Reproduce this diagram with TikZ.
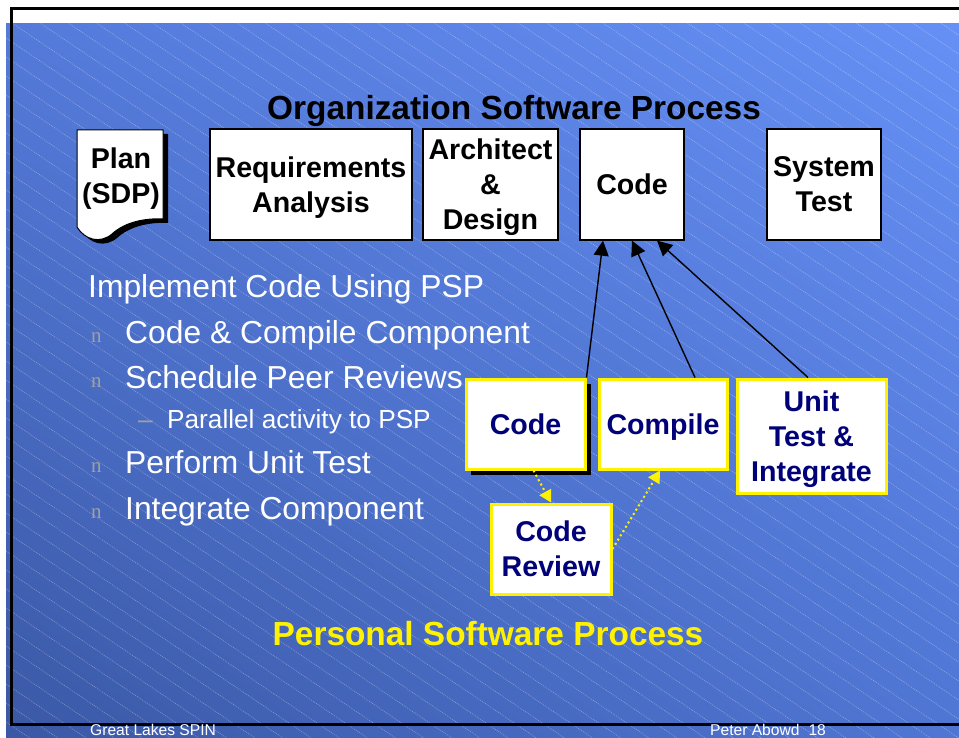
\documentclass[tikz,border=0pt]{standalone}
\usepackage{fontspec}
\setmainfont{Liberation Sans}
\newfontfamily\bulletfont{Liberation Serif}
\usepackage{tikz}
\usetikzlibrary{arrows,arrows.meta,shapes,shadings,positioning}

\definecolor{slideul}{RGB}{84,122,218}
\definecolor{slideur}{RGB}{102,144,245}
\definecolor{slidell}{RGB}{58,88,165}
\definecolor{slidelr}{RGB}{80,118,212}
\definecolor{navytext}{RGB}{0,0,120}
\definecolor{bulletgray}{RGB}{160,160,160}

\newcommand{\titlefont}{\fontsize{33.4}{40}\selectfont\bfseries}
\newcommand{\orgfont}{\fontsize{28.6}{35}\selectfont\bfseries}
\newcommand{\listfont}{\fontsize{31.8}{37}\selectfont}
\newcommand{\subfont}{\fontsize{26.2}{30}\selectfont}
\newcommand{\footfont}{\fontsize{15.6}{18}\selectfont}
\newcommand{\planpath}{(77,130) -- (163,130) -- (163,219)
  .. controls (145,218) and (125,222) .. (112,234)
  .. controls (100,244) and (85,240) .. (77,227) -- cycle}

\begin{document}
\begin{tikzpicture}[x=1pt, y=-1pt,
    orgbox/.style={draw=black, line width=1.3pt, fill=white, font=\orgfont,
      align=center, inner sep=0pt, text depth=0pt, minimum height=111pt},
    pspbox/.style={draw=yellow, line width=3pt, fill=white, text=navytext,
      font=\orgfont, align=center, inner sep=0pt, text depth=0pt, minimum height=90pt},
    listitem/.style={anchor=base west, text=white, font=\listfont, inner sep=0pt},
    bulletmark/.style={anchor=base west, text=bulletgray, inner sep=0pt,
      font=\bulletfont\fontsize{21}{24}\selectfont},
    hatch/.style={white, opacity=0.35, line width=0.6pt, dash pattern=on 1pt off 1pt},
    uparrow/.style={black, line width=1.4pt, -{Triangle[length=15pt, width=15pt]}},
    reviewarrow/.style={yellow, line width=2pt, dash pattern=on 2pt off 3pt,
      -{Triangle[length=12pt, width=13pt]}}]
    \useasboundingbox (0,0) rectangle (959,738);

    % slide background
    \shade[upper left=slideul, upper right=slideur, lower left=slidell, lower right=slidelr]
      (6,24) rectangle (959,738);
    \begin{scope}
      \clip (6,24) rectangle (959,738);
      \foreach \k in {-34,...,39}
        \draw[hatch] (6,\k*19) -- ++(960,648);
    \end{scope}
    \draw[black, line width=3pt] (959,9) -- (11.5,9) -- (11.5,724.5) -- (959,724.5);

    % organization process
    \node[font=\titlefont, text depth=0pt] (title) at (514,107) {Organization Software Process};

    \fill[black, shift={(5,4)}] \planpath;
    \draw[black, line width=1pt, fill=white] \planpath;
    \node[font=\orgfont, align=center, text depth=0pt] (plan) at (121,176) {Plan\\(SDP)};

    \node[orgbox, minimum width=202pt] (req) at (311,184.5) {Requirements\\Analysis};
    \node[orgbox, minimum width=135pt] (arch) at (490.5,184.5) {Architect\\\&\\Design};
    \node[orgbox, minimum width=104pt] (code) at (632,184.5) {Code};
    \node[orgbox, minimum width=114pt] (sys) at (824,184.5) {System\\Test};

    % bullet list
    \node[listitem] (impl) at (88,298) {Implement Code Using PSP};
    \node[bulletmark] (b1) at (91,342) {n};
    \node[listitem] (item1) at (125,343) {Code \& Compile Component};
    \node[bulletmark] (b2) at (91,387) {n};
    \node[listitem] (item2) at (125,388) {Schedule Peer Reviews};
    \node[bulletmark, font=\subfont] (dash) at (138,428) {--};
    \node[listitem, font=\subfont] (sub1) at (167,428) {Parallel activity to PSP};
    \node[bulletmark] (b3) at (91,472) {n};
    \node[listitem] (item3) at (125,473) {Perform Unit Test};
    \node[bulletmark] (b4) at (91,518) {n};
    \node[listitem] (item4) at (125,519) {Integrate Component};

    % personal process
    \fill[black] (471,384) rectangle (591,475);
    \node[pspbox, minimum width=119pt] (pcode) at (525.5,424) {Code};
    \node[pspbox, minimum width=128pt] (pcomp) at (663,424) {Compile};
    \node[pspbox, minimum width=149pt, minimum height=114pt] (punit) at (811.5,436) {Unit\\Test \&\\Integrate};
    \node[pspbox, minimum width=120pt] (prev) at (551,549) {Code\\Review};

    \draw[uparrow] (pcode.north east) -- ([xshift=-29pt]code.south);
    \draw[uparrow] ([xshift=32pt]pcomp.north) -- (code.south);
    \draw[uparrow] ([xshift=-3.5pt]punit.north) -- ([xshift=25pt]code.south);

    \draw[reviewarrow] ([xshift=8pt]pcode.south) -- (prev.north);
    \draw[reviewarrow] (prev.east) -- ([xshift=-3pt]pcomp.south);

    \node[text=yellow, font=\titlefont, text depth=0pt] (psp) at (488,633) {Personal Software Process};

    % footer
    \node[anchor=base west, text=white, font=\footfont, inner sep=0pt] (spin) at (90,735.5) {Great Lakes SPIN};
    \node[anchor=base west, text=white, font=\footfont, inner sep=0pt] (abowd) at (710,735.5) {Peter Abowd\hspace{9pt}18};
\end{tikzpicture}
\end{document}
